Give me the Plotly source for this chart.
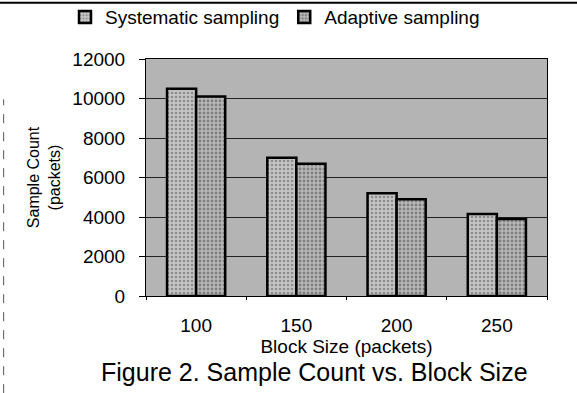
import plotly.graph_objects as go

categories = ["100", "150", "200", "250"]
systematic = [10500, 7000, 5200, 4150]
adaptive = [10100, 6700, 4900, 3900]
y_ticks = [0, 2000, 4000, 6000, 8000, 10000, 12000]

FONT = "Liberation Sans, Arial, sans-serif"

fig = go.Figure()
fig.add_trace(go.Bar(
    name="Systematic sampling", x=categories, y=systematic,
    marker=dict(color="#c4c4c4", line=dict(color="black", width=2.5),
                pattern=dict(shape=".", fgcolor="#555555", bgcolor="#c4c4c4", size=4, solidity=0.35)),
))
fig.add_trace(go.Bar(
    name="Adaptive sampling", x=categories, y=adaptive,
    marker=dict(color="#b0b0b0", line=dict(color="black", width=2.5),
                pattern=dict(shape=".", fgcolor="#444444", bgcolor="#b8b8b8", size=4, solidity=0.4)),
))

fig.update_layout(
    width=577, height=393,
    margin=dict(l=146, r=30, t=59, b=97, autoexpand=False),
    paper_bgcolor="white",
    plot_bgcolor="#b4b4b4",
    barmode="group",
    bargap=0.42,
    bargroupgap=0,
    font=dict(family=FONT, size=19, color="black"),
    showlegend=True,
    legend=dict(orientation="h", x=-0.202, xanchor="left", y=1.177, yanchor="middle",
                font=dict(size=19, family=FONT), bgcolor="rgba(0,0,0,0)",
                itemwidth=30, tracegroupgap=0),
    xaxis=dict(
        title=dict(text="Block Size (packets)", font=dict(size=19, family=FONT), standoff=0),
        showline=True, linecolor="black", linewidth=1,
        ticks="outside", ticklen=3, tickcolor="black", tickson="boundaries",
        ticklabelstandoff=12,
        tickfont=dict(size=19, family=FONT),
        mirror=True,
    ),
    yaxis=dict(
        title=dict(text="Sample Count<br>(packets)", font=dict(size=16, family=FONT), standoff=7),
        range=[0, 12000], tickvals=y_ticks, tickformat="d",
        showgrid=True, gridcolor="#222222", gridwidth=1,
        showline=True, linecolor="black", linewidth=1, mirror=True,
        ticks="outside", ticklen=6, tickcolor="black", ticklabelstandoff=10,
        tickfont=dict(size=19, family=FONT),
        zeroline=False,
    ),
    annotations=[dict(
        text="Figure 2. Sample Count vs. Block Size", xref="paper", yref="paper",
        x=0.421, y=-0.321, xanchor="center", yanchor="middle", showarrow=False,
        font=dict(size=25, family=FONT),
    )],
    shapes=[
        dict(type="line", xref="paper", yref="paper", x0=-0.37, x1=1.08, y0=1.237, y1=1.237,
             line=dict(color="black", width=2)),
        dict(type="line", xref="paper", yref="paper", x0=-0.355, x1=-0.355, y0=-0.41, y1=0.83,
             line=dict(color="#555555", width=1, dash="dash")),
    ],
)

fig.write_html("out.html")
